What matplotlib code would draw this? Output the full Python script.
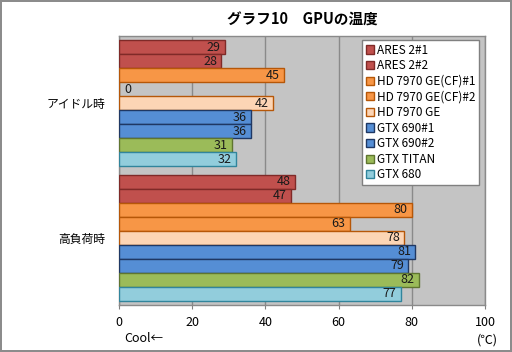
import numpy as np
import matplotlib.pyplot as plt

plt.rcParams['font.family'] = ['Noto Sans CJK JP', 'DejaVu Sans']

categories = ['アイドル時', '高負荷時']
series = ['ARES 2#1', 'ARES 2#2', 'HD 7970 GE(CF)#1', 'HD 7970 GE(CF)#2',
          'HD 7970 GE', 'GTX 690#1', 'GTX 690#2', 'GTX TITAN', 'GTX 680']
idle = [29, 28, 45, 0, 42, 36, 36, 31, 32]
load = [48, 47, 80, 63, 78, 81, 79, 82, 77]
xticks = [0, 20, 40, 60, 80, 100]

faces = ['#c0504d', '#c0504d', '#f79646', '#f79646', '#fcd5b5',
         '#558ed5', '#558ed5', '#9bbb59', '#92cddc']
edges = ['#7f2a28', '#7f2a28', '#b65708', '#b65708', '#b65708',
         '#1f3864', '#1f3864', '#5f7530', '#31859c']

fig = plt.figure(figsize=(5.12, 3.52), dpi=100, linewidth=1.5, edgecolor='#8c8c8c')
ax = fig.add_axes([0.2324, 0.1335, 0.7148, 0.7642])
ax.set_facecolor('#c4c4c4')

n = len(series)
h = 0.94 / n
values = np.array([idle, load]).T
for i, name in enumerate(series):
    y = np.arange(len(categories)) - 0.47 + h * (i + 0.5)
    ax.barh(y, values[i], height=h, color=faces[i], edgecolor=edges[i],
            linewidth=1, label=name, zorder=3)
    for yy, v in zip(y, values[i]):
        if v == 0:
            ax.text(1.5, yy, str(v), ha='left', va='center', fontsize=9,
                    color='#1a1a1a', zorder=4)
        else:
            ax.text(v - 1.2, yy, str(v), ha='right', va='center', fontsize=9,
                    color='#1a1a1a', zorder=4)

ax.set_xlim(0, 100)
ax.set_ylim(1.5, -0.5)
ax.set_xticks(xticks)
ax.set_xticklabels([str(t) for t in xticks], fontsize=9)
ax.set_yticks(range(len(categories)))
ax.set_yticklabels(categories, fontsize=8.5)
ax.tick_params(axis='y', length=0, pad=10)
ax.tick_params(axis='x', length=3, color='#808080', pad=5)
ax.grid(axis='x', color='#8a8a8a', linewidth=1, zorder=1)
for s in ax.spines.values():
    s.set_color('#8a8a8a')
    s.set_linewidth(1)

ax.set_title('グラフ10　GPUの温度', fontsize=10.5, fontweight='bold', pad=8)
fig.text(0.28, 0.038, 'Cool←', fontsize=9, ha='center', va='center')
fig.text(0.952, 0.035, '(℃)', fontsize=9, ha='center', va='center')

leg = ax.legend(loc='upper left', bbox_to_anchor=(0.664, 0.985), borderaxespad=0,
                fontsize=8.5, handlelength=0.7, handleheight=0.7, handletextpad=0.25,
                labelspacing=0.22, frameon=True, fancybox=False, borderpad=0.3)
leg.get_frame().set_edgecolor('#808080')
leg.get_frame().set_facecolor('white')
leg.get_frame().set_alpha(1)
leg.set_zorder(5)

fig.savefig('out.png', dpi=100)
